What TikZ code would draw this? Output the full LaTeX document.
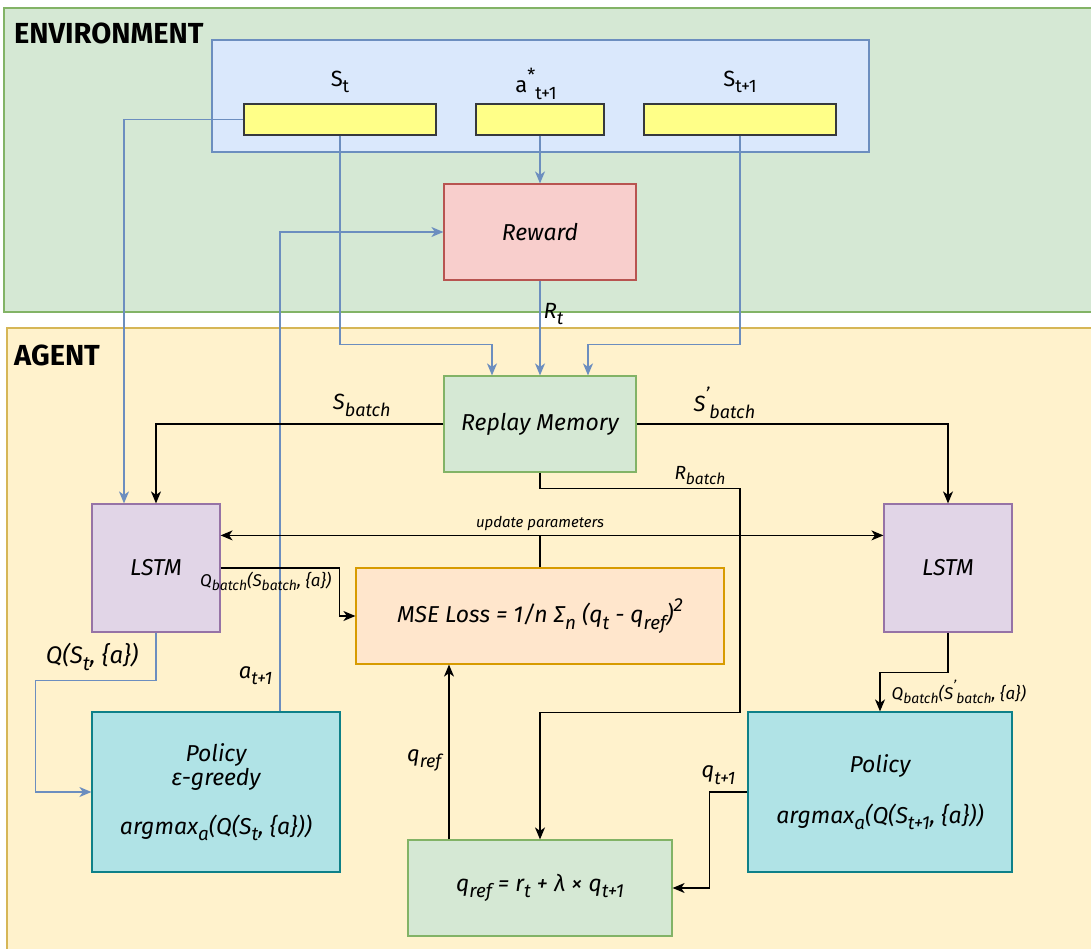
\documentclass[tikz,border=0pt]{standalone}
\usepackage{fontspec}
\setmainfont{Fira Sans}
\usetikzlibrary{arrows.meta}

\definecolor{envfill}{HTML}{D5E8D4}
\definecolor{envdraw}{HTML}{82B366}
\definecolor{agtfill}{HTML}{FFF2CC}
\definecolor{agtdraw}{HTML}{D6B656}
\definecolor{stfill}{HTML}{DAE8FC}
\definecolor{stdraw}{HTML}{6C8EBF}
\definecolor{barfill}{HTML}{FFFF88}
\definecolor{bardraw}{HTML}{36393D}
\definecolor{rewfill}{HTML}{F8CECC}
\definecolor{rewdraw}{HTML}{B85450}
\definecolor{lstmfill}{HTML}{E1D5E7}
\definecolor{lstmdraw}{HTML}{9673A6}
\definecolor{msefill}{HTML}{FFE6CC}
\definecolor{msedraw}{HTML}{D79B00}
\definecolor{polfill}{HTML}{B0E3E6}
\definecolor{poldraw}{HTML}{0E8088}

% sub- and superscripts a bit larger than \textsubscript
\newcommand\subtx[1]{\raisebox{-0.28em}{\scalebox{0.82}{#1}}}
\newcommand\suptx[1]{\raisebox{0.5em}{\scalebox{0.82}{#1}}}

\tikzset{
  box/.style={draw, line width=1.2pt, align=center, inner sep=0pt,
    font=\itshape\fontsize{23}{27}\selectfont},
  bar/.style={draw=bardraw, fill=barfill, line width=1.4pt, minimum height=31pt, inner sep=0pt},
  tag/.style={font=\itshape\fontsize{22}{26}\selectfont, inner sep=1pt, text=black},
  small/.style={font=\itshape\fontsize{17}{20}\selectfont, inner sep=1pt, text=black},
  grp/.style={font=\bfseries\fontsize{29}{32}\selectfont, inner sep=0pt},
  blk/.style={line width=1.3pt, black},
  blu/.style={line width=1.3pt, stdraw},
  tip/.style={-{Stealth[length=12pt,width=10pt,inset=3.5pt]}}
}

\begin{document}
\begin{tikzpicture}[x=1pt,y=-1pt]
\useasboundingbox (0,0) rectangle (1091,949);
% the two regions
\draw[fill=envfill, draw=envdraw, line width=1.2pt] (4,8) rectangle (1100,312);
\node[grp, anchor=west] (envlbl) at (14,33) {ENVIRONMENT};
\draw[fill=agtfill, draw=agtdraw, line width=1.2pt] (7,328) rectangle (1100,962);
\node[grp, anchor=west] (agtlbl) at (14,355) {AGENT};

% environment
\node[box, fill=stfill, draw=stdraw, minimum width=657pt, minimum height=112pt] (state) at (540.5,96) {};
\node[bar, minimum width=192pt] (barS) at (340,119.5) {};
\node[bar, minimum width=128pt] (barA) at (540,119.5) {};
\node[bar, minimum width=192pt] (barN) at (740,119.5) {};
\node[tag, font=\fontsize{22}{26}\selectfont] (lblS) at (340,82) {S\subtx{t}};
\node[tag, font=\fontsize{22}{26}\selectfont] (lblA) at (536,84) {a\suptx{*}\subtx{t+1}};
\node[tag, font=\fontsize{22}{26}\selectfont] (lblN) at (740,82) {S\subtx{t+1}};
\node[box, fill=rewfill, draw=rewdraw, minimum width=192pt, minimum height=96pt] (rew) at (540,232) {Reward};

% agent
\node[box, fill=envfill, draw=envdraw, minimum width=192pt, minimum height=96pt] (rm) at (540,424) {Replay Memory};
\node[box, fill=lstmfill, draw=lstmdraw, minimum width=128pt, minimum height=128pt] (lstmL) at (156,568) {LSTM};
\node[box, fill=lstmfill, draw=lstmdraw, minimum width=128pt, minimum height=128pt] (lstmR) at (948,568) {LSTM};
\node[box, fill=msefill, draw=msedraw, minimum width=368pt, minimum height=96pt] (mse) at (540,616)
  {MSE Loss = 1/n Σ\subtx{n} (q\subtx{t} - q\subtx{ref})\suptx{2}};
\node[box, fill=polfill, draw=poldraw, minimum width=248pt, minimum height=160pt] (polL) at (216,792)
  {Policy\\[-3pt]ε-greedy\\[22pt]argmax\subtx{a}(Q(S\subtx{t}, \{a\}))};
\node[box, fill=polfill, draw=poldraw, minimum width=264pt, minimum height=160pt] (polR) at (880,792)
  {Policy\\[24pt]argmax\subtx{a}(Q(S\subtx{t+1}, \{a\}))};
\node[box, fill=envfill, draw=envdraw, minimum width=264pt, minimum height=96pt] (qref) at (540,888)
  {q\subtx{ref} = r\subtx{t} + λ × q\subtx{t+1}};

% blue connectors
\draw[blu, tip] (barS.west) -| ([xshift=-32pt]lstmL.north);
\draw[blu, tip] (barS.south) -- ++(0,209) -| ([xshift=-48pt]rm.north);
\draw[blu, tip] (barN.south) -- ++(0,209) -| ([xshift=48pt]rm.north);
\draw[blu, tip] (barA.south) -- (rew.north);
\draw[blu, tip] (rew.south) -- (rm.north) node[tag, pos=0.35, right=2pt] {R\subtx{t}};
\draw[blu, tip] ([xshift=64pt]polL.north) |- (rew.west) node[tag, pos=0.037, left=6pt] {a\subtx{t+1}};
\draw[blu, tip] (lstmL.south) -- ++(0,48) node[tag, font=\itshape\fontsize{24}{28}\selectfont, pos=0.5, left=16pt] {Q(S\subtx{t}, \{a\})}
  -| ([xshift=-56pt]polL.west) -- (polL.west);

% black connectors
\draw[blk, tip] (rm.west) -| (lstmL.north) node[tag, pos=0.142, above=6pt] {S\subtx{batch}};
\draw[blk, tip] (rm.east) -| (lstmR.north) node[tag, pos=0.141, above=4pt] {S\suptx{'}\subtx{batch}};
\draw[blk, tip] (rm.south) -- ++(0,16) -| ++(200,224) node[tag, font=\itshape\fontsize{19}{22}\selectfont, pos=0.4, above=2pt] {R\subtx{batch}}
  -| (qref.north);
\draw[blk] (mse.north) -- ++(0,-32) coordinate (upd) node[small, font=\itshape\fontsize{15}{18}\selectfont, above=3pt] {update parameters};
\draw[blk, tip] (upd) -- (upd -| lstmL.east);
\draw[blk, tip] (upd) -- (upd -| lstmR.west);
\draw[blk, tip] (lstmL.east) -| ([xshift=-16pt]mse.west) node[small, pos=0.19, below=2pt] {Q\subtx{batch}(S\subtx{batch}, \{a\})}
  -- (mse.west);
\draw[blk, tip] (lstmR.south) -- ++(0,40) -| (polR.north)
  node[small, pos=0.75, right=10pt] {Q\subtx{batch}(S\suptx{'}\subtx{batch}, \{a\})};
\draw[blk, tip] (polR.west) -| ++(-38,96) node[tag, pos=0.38, above=6pt] {q\subtx{t+1}} -- (qref.east);
\draw[blk, tip] ([xshift=-91pt]qref.north) -- ([xshift=-91pt]qref.north |- mse.south)
  node[tag, pos=0.45, left=6pt] {q\subtx{ref}};
\end{tikzpicture}
\end{document}
